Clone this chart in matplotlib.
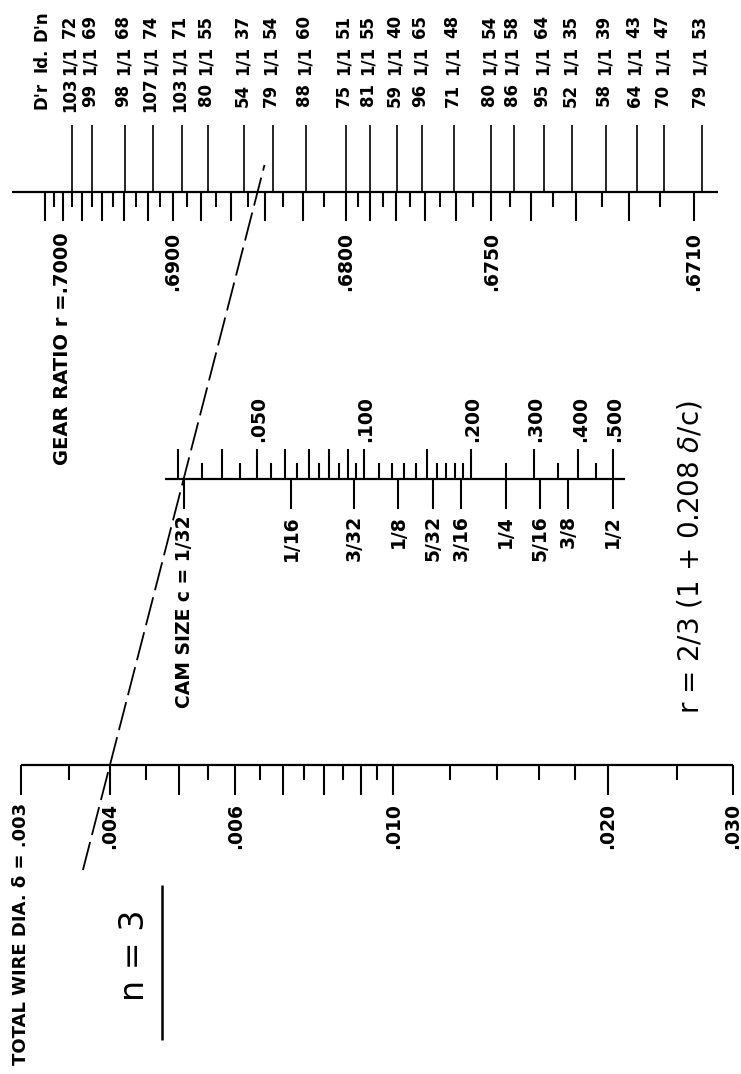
import numpy as np
import matplotlib
matplotlib.use('Agg')
import matplotlib.pyplot as plt

# total wire diameter scale (delta)
wire_major = [0.003, 0.004, 0.005, 0.006, 0.007, 0.008, 0.009, 0.010, 0.020, 0.030]
wire_minor = [0.0035, 0.0045, 0.0055, 0.0065, 0.0075, 0.0085, 0.0095,
              0.012, 0.014, 0.016, 0.018, 0.025]
wire_labels = ['.004', '.006', '.010', '.020', '.030']
wire_label_vals = [0.004, 0.006, 0.010, 0.020, 0.030]

# gear ratio scale (r)
gear_major = [0.702, 0.700, 0.698, 0.696, 0.694, 0.692, 0.690, 0.688, 0.686,
              0.684, 0.682, 0.680, 0.679, 0.678, 0.677, 0.676, 0.675, 0.674,
              0.673, 0.672, 0.671]
gear_minor = [0.701, 0.699, 0.697, 0.695, 0.693, 0.691, 0.689, 0.687, 0.685,
              0.683, 0.681, 0.6795, 0.6785, 0.6775, 0.6765, 0.6755, 0.6745,
              0.6735, 0.6725, 0.6715]
gear_labels = ['.6900', '.6800', '.6750', '.6710']
gear_label_vals = [0.690, 0.680, 0.675, 0.671]

# cam size scale (c)
cam_tall = [0.03, 0.04, 0.05, 0.06, 0.07, 0.08, 0.09, 0.10, 0.15, 0.20, 0.30, 0.40, 0.50]
cam_short = [0.035, 0.045, 0.055, 0.065, 0.075, 0.085, 0.095, 0.11, 0.12, 0.13,
             0.14, 0.16, 0.17, 0.18, 0.19, 0.25, 0.35, 0.45]
cam_dec_labels = ['.050', '.100', '.200', '.300', '.400', '.500']
cam_dec_vals = [0.05, 0.10, 0.20, 0.30, 0.40, 0.50]
cam_frac_labels = ['1/16', '3/32', '1/8', '5/32', '3/16', '1/4', '5/16', '3/8', '1/2']
cam_frac_vals = [1/16, 3/32, 1/8, 5/32, 3/16, 1/4, 5/16, 3/8, 1/2]

# change gear sets
gear_dr = [103, 99, 98, 107, 103, 80, 54, 79, 88, 75, 81, 59, 96, 71, 80, 86, 95, 52, 58, 64, 70, 79]
gear_id = ['1/1'] * 22
gear_dn = [72, 69, 68, 74, 71, 55, 37, 54, 60, 51, 55, 40, 65, 48, 54, 58, 64, 35, 39, 43, 47, 53]

# example isopleth
delta_ex = 0.004
cam_ex = 1/32
r_ex = 2/3 * (1 + 0.208 * delta_ex / cam_ex)

# scale positions on the page
Y_GEAR, Y_CAM, Y_WIRE = 192, 478.5, 765
PX_DEC = 712


def x_wire(d):
    return 21 + PX_DEC * np.log10(np.asarray(d) / 0.003)


def x_gear(r):
    return 346 + PX_DEC * np.log10((0.68 - 2/3) / (np.asarray(r) - 2/3))


def x_cam(c):
    return 184 + PX_DEC / 2 * np.log10(np.asarray(c) * 32)


fig = plt.figure(figsize=(7.41, 10.74), dpi=100)
ax = fig.add_axes([0, 0, 1, 1])
ax.set_xlim(0, 741)
ax.set_ylim(1074, 0)
ax.axis('off')

K = 'black'
lab = dict(rotation=90, ha='center', fontweight='bold', color=K)

# wire dia scale
ax.hlines(Y_WIRE, 21, 733, color=K, lw=1.6)
ax.vlines(x_wire(wire_major), Y_WIRE, Y_WIRE + 30, color=K, lw=1.5)
ax.vlines(x_wire(wire_minor), Y_WIRE, Y_WIRE + 15, color=K, lw=1.5)
for v, s in zip(wire_label_vals, wire_labels):
    ax.text(x_wire(v), 803, s, va='top', fontsize=13.5, **lab)
ax.text(x_wire(0.003), 803, 'TOTAL WIRE DIA. δ = .003', va='top', fontsize=13, **lab)

# gear ratio scale
ax.hlines(Y_GEAR, 12, 718, color=K, lw=1.6)
ax.vlines(x_gear(gear_major), Y_GEAR, Y_GEAR + 29, color=K, lw=1.5)
ax.vlines(x_gear(gear_minor), Y_GEAR, Y_GEAR + 15, color=K, lw=1.5)
for v, s in zip(gear_label_vals, gear_labels):
    ax.text(x_gear(v), 232, s, va='top', fontsize=13.5, **lab)
ax.text(x_gear(0.700), 232, 'GEAR RATIO r =.7000', va='top', fontsize=14, **lab)

# gear sets
ratios = np.array(gear_dn) / np.array(gear_dr)
gx = x_gear(ratios)
ax.vlines(gx, 125, Y_GEAR, color=K, lw=1.2)
for x, a, b, c in zip(gx, gear_dr, gear_id, gear_dn):
    ax.text(x - 2, 95, str(a), va='center', fontsize=12, **lab)
    ax.text(x - 2, 60, b, va='center', fontsize=12, **lab)
    ax.text(x - 2, 26, str(c), va='center', fontsize=12, **lab)
ax.text(42, 95, "D'r", va='center', fontsize=12, **lab)
ax.text(42, 60, 'Id.', va='center', fontsize=12, **lab)
ax.text(42, 26, "D'n", va='center', fontsize=12, **lab)

# cam size scale
ax.hlines(Y_CAM, 165, 625, color=K, lw=1.6)
ax.vlines(x_cam(cam_tall), Y_CAM - 30, Y_CAM, color=K, lw=1.5)
ax.vlines(x_cam(cam_short), Y_CAM - 16, Y_CAM, color=K, lw=1.5)
ax.vlines(x_cam([1/32] + cam_frac_vals), Y_CAM, Y_CAM + 30, color=K, lw=1.5)
for v, s in zip(cam_dec_vals, cam_dec_labels):
    ax.text(x_cam(v) + 2, 442, s, va='bottom', fontsize=13.5, **lab)
for v, s in zip(cam_frac_vals, cam_frac_labels):
    ax.text(x_cam(v), 515, s, va='top', fontsize=13.5, **lab)
ax.text(x_cam(1/32), 515, 'CAM SIZE c = 1/32', va='top', fontsize=13.5, **lab)

# isopleth through the example
y_pts = np.array([Y_WIRE, Y_GEAR])
x_pts = np.array([x_wire(delta_ex), x_gear(r_ex)])
slope = (x_pts[1] - x_pts[0]) / (y_pts[1] - y_pts[0])
y_ends = np.array([870, 165])
ax.plot(x_pts[0] + slope * (y_ends - y_pts[0]), y_ends, color=K, lw=1.3,
        dashes=(16, 4))

# formula and n
ax.text(690, 557, r'r = 2/3 (1 + 0.208 $\delta$/c)', rotation=90, ha='center',
        va='center', fontsize=20, color=K)
ax.text(135, 955, 'n = 3', rotation=90, ha='center', va='center', fontsize=24, color=K)
ax.vlines(162, 885, 1040, color=K, lw=1.8)

fig.savefig('out.png', dpi=100)
